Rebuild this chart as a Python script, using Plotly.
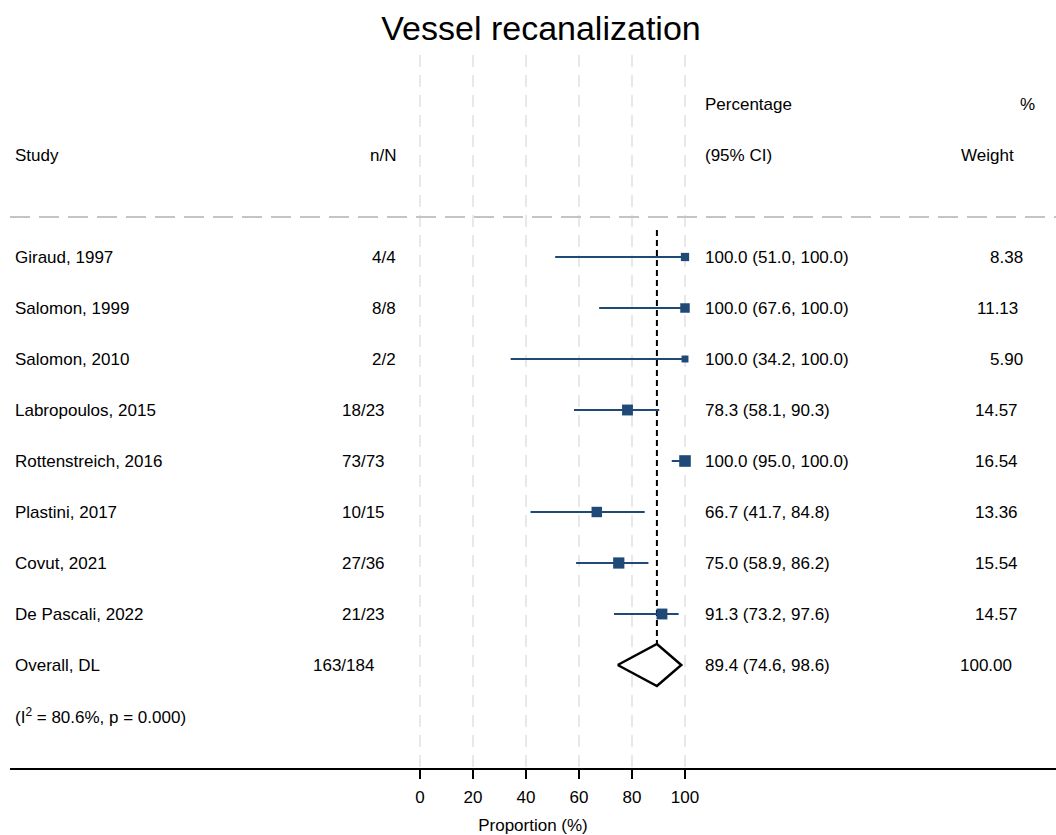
import numpy as np
import plotly.graph_objects as go

# ---------------- data ----------------
studies = ["Giraud, 1997", "Salomon, 1999", "Salomon, 2010", "Labropoulos, 2015",
           "Rottenstreich, 2016", "Plastini, 2017", "Covut, 2021", "De Pascali, 2022"]
n_over_N = ["4/4", "8/8", "2/2", "18/23", "73/73", "10/15", "27/36", "21/23"]
estimate = [100.0, 100.0, 100.0, 78.3, 100.0, 66.7, 75.0, 91.3]
ci_low = [51.0, 67.6, 34.2, 58.1, 95.0, 41.7, 58.9, 73.2]
ci_high = [100.0, 100.0, 100.0, 90.3, 100.0, 84.8, 86.2, 97.6]
weights = [8.38, 11.13, 5.90, 14.57, 16.54, 13.36, 15.54, 14.57]

overall_label = "Overall, DL"
overall_nN = "163/184"
overall_est = 89.4
overall_low = 74.6
overall_high = 98.6
overall_weight = 100.00
heterogeneity = "(I<sup>2</sup> = 80.6%, p = 0.000)"

x_ticks = [0, 20, 40, 60, 80, 100]

# ---------------- layout helpers ----------------
W, H = 1056, 835
PX_PER_UNIT = 2.65
X0_PX = 420          # pixel of value 0
PLOT_L, PLOT_R = 10, 1056
PLOT_T, PLOT_B = 55, 768
ROW0_PX, ROW_STEP = 257, 51


def px_to_x(px):
    return (px - X0_PX) / PX_PER_UNIT


def px_to_row(py):
    return (py - ROW0_PX) / ROW_STEP


BLUE = "#1f4a78"
FONT = "Liberation Sans, Arial, sans-serif"
FS = 17

fig = go.Figure()

nrows = len(studies)
rows = list(range(nrows))
overall_row = nrows
het_row = nrows + 1

# horizontal dashed separator
sep_row = px_to_row(217)
fig.add_trace(go.Scatter(x=[px_to_x(PLOT_L), px_to_x(PLOT_R)], y=[sep_row, sep_row],
                         mode="lines", line=dict(color="#c4c4c4", width=2, dash="20px,9px"),
                         hoverinfo="skip", showlegend=False))

# overall dashed vertical line
fig.add_trace(go.Scatter(x=[overall_est, overall_est], y=[px_to_row(230), px_to_row(690)],
                         mode="lines", line=dict(color="black", width=2, dash="6px,4px"),
                         hoverinfo="skip", showlegend=False))

# CI lines
for r, lo, hi in zip(rows, ci_low, ci_high):
    fig.add_trace(go.Scatter(x=[lo, hi], y=[r, r], mode="lines",
                             line=dict(color=BLUE, width=2), hoverinfo="skip",
                             showlegend=False))

# weighted squares
fig.add_trace(go.Scatter(x=estimate, y=rows, mode="markers",
                         marker=dict(symbol="square", color=BLUE, opacity=1,
                                     size=[2.85 * np.sqrt(w) for w in weights],
                                     line=dict(width=0)),
                         showlegend=False))

# diamond
half_h = 21 / ROW_STEP
fig.add_trace(go.Scatter(x=[overall_low, overall_est, overall_high, overall_est, overall_low],
                         y=[overall_row, overall_row - half_h, overall_row,
                            overall_row + half_h, overall_row],
                         mode="lines", fill="toself", fillcolor="white",
                         line=dict(color="black", width=2.5), showlegend=False))

ann = []


def text(px, row, s, anchor="left", size=FS):
    px = px - 2 if anchor == "left" else px + 2
    ann.append(dict(x=px_to_x(px), y=row, xref="x", yref="y", text=s, showarrow=False,
                    xanchor=anchor, yanchor="middle",
                    font=dict(family=FONT, size=size, color="black")))


# headers
text(15, px_to_row(155), "Study")
text(396, px_to_row(155), "n/N", "right")
text(705, px_to_row(104), "Percentage")
text(705, px_to_row(155), "(95% CI)")
text(1035, px_to_row(104), "%", "right")
text(1014, px_to_row(155), "Weight", "right")

# study rows
for r, s, nn, e, lo, hi, w in zip(rows, studies, n_over_N, estimate, ci_low, ci_high, weights):
    text(15, r, s)
    text(396 - 5.5 * (len(nn) - 3), r, nn, "right")
    text(705, r, f"{e:.1f} ({lo:.1f}, {hi:.1f})")
    ws = f"{w:.2f}"
    text(1023 - 5.5 * (len(ws) - 4), r, ws, "right")

text(15, overall_row, overall_label)
text(396 - 5.5 * (len(overall_nN) - 3), overall_row, overall_nN, "right")
text(705, overall_row, f"{overall_est:.1f} ({overall_low:.1f}, {overall_high:.1f})")
ows = f"{overall_weight:.2f}"
text(1023 - 5.5 * (len(ows) - 4), overall_row, ows, "right")
text(15, het_row, heterogeneity)

fig.update_layout(
    width=W, height=H,
    margin=dict(l=PLOT_L, r=W - PLOT_R, t=PLOT_T, b=H - PLOT_B),
    paper_bgcolor="white", plot_bgcolor="white",
    title=dict(text="Vessel recanalization", x=541 / W, xref="container",
               xanchor="center", y=1 - 28 / H, yanchor="middle",
               font=dict(family=FONT, size=34, color="black")),
    annotations=ann,
    showlegend=False,
    xaxis=dict(range=[px_to_x(PLOT_L), px_to_x(PLOT_R)], tickvals=x_ticks,
               ticktext=[str(t) for t in x_ticks], showgrid=True, gridcolor="#e8e8e8",
               griddash="12px,8px", gridwidth=2, zeroline=False, showline=True,
               linecolor="black", linewidth=1.5, ticks="outside", ticklen=9,
               tickwidth=1.5, tickcolor="black", ticklabelstandoff=4,
               tickfont=dict(family=FONT, size=FS, color="black"),
               title=dict(text="Proportion (%)", standoff=14,
                          font=dict(family=FONT, size=FS, color="black"))),
    yaxis=dict(range=[px_to_row(PLOT_B), px_to_row(PLOT_T)], showgrid=False,
               zeroline=False, showticklabels=False, showline=False),
)

fig.write_html("out.html")
